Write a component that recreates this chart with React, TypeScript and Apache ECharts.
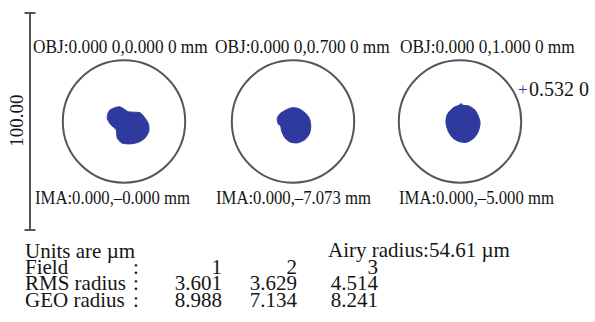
import React, { useEffect, useRef } from "react";
import * as echarts from "echarts";

// ---------- data ----------
const fieldNumbers = [1, 2, 3];
const objLabels = ["OBJ:0.000 0,0.000 0 mm", "OBJ:0.000 0,0.700 0 mm", "OBJ:0.000 0,1.000 0 mm"];
const imaLabels = ["IMA:0.000,–0.000 mm", "IMA:0.000,–7.073 mm", "IMA:0.000,–5.000 mm"];
const rmsRadius = [3.601, 3.629, 4.514];
const geoRadius = [8.988, 7.134, 8.241];
const airyRadiusUm = 54.61;
const scaleBarUm = 100;
const referenceLabel = "0.532 0";
// radius (µm, box units) of the drawn circle
const drawnCircleRadiusUm = 28.2;

// spot outlines (µm, relative to box centre)
const spot1: number[][] = [
  [-6.16, 5.56], [-2.18, 6.81], [-0.32, 6.02], [1.99, 4.49], [7.41, 4.03], [9.4, 1.99],
  [11.25, -1.06], [11.44, -4.49], [9.72, -7.55], [6.62, -9.58], [2.78, -10.32], [-1.06, -9.86],
  [-3.1, -7.55], [-3.7, -3.7], [-6.16, -1.39], [-7.73, 1.39], [-7.27, 4.03],
];
const spot2: number[][] = [
  [-3.7, 5.09], [-0.6, 6.34], [2.45, 6.02], [5.56, 4.03], [7.55, 1.39], [8.19, -2.18],
  [7.55, -5.69], [5.56, -8.33], [1.99, -9.86], [-1.39, -9.4], [-3.7, -7.55], [-5.23, -4.49],
  [-5.69, -2.18], [-6.81, -1.06], [-7.27, 1.39], [-6.02, 3.56],
];
const spot3: number[][] = [
  [-3.1, 6.34], [-0.32, 7.55], [0.46, 8.33], [1.25, 7.55], [4.31, 7.08], [6.94, 5.23],
  [8.47, 2.45], [9.26, -0.6], [8.47, -4.49], [6.48, -7.55], [3.1, -9.58], [-0.32, -9.26],
  [-3.38, -7.55], [-5.42, -4.49], [-6.48, -0.6], [-5.88, 3.24],
];
const spots = [spot1, spot2, spot3];

// ---------- layout ----------
const W = 595;
const H = 322;
const FONT = '"Liberation Serif", "Times New Roman", serif';
const gridTop = 13;
const gridH = 217;
const gridW = 150;
const boxCentersX = [124, 293, 460];
const xHalf = (scaleBarUm / 2) * (gridW / gridH);
const SPOT_COLOR = "#2f3a9f";
const GRAY = "#53575c";
const TEXT = "#151515";

export default function App() {
  const ref = useRef<HTMLDivElement>(null);

  useEffect(() => {
    if (!ref.current) return;
    const chart = echarts.init(ref.current, undefined, { renderer: "svg" });

    const grids = boxCentersX.map((cx) => ({
      left: cx - gridW / 2,
      top: gridTop,
      width: gridW,
      height: gridH,
      containLabel: false,
    }));
    const xAxes = boxCentersX.map((_, i) => ({
      type: "value", gridIndex: i, min: -xHalf, max: xHalf, show: false,
    }));
    const yAxes = boxCentersX.map((_, i) => ({
      type: "value", gridIndex: i, min: -scaleBarUm / 2, max: scaleBarUm / 2, show: false,
    }));

    const series: any[] = [];
    spots.forEach((pts, i) => {
      series.push({
        type: "custom",
        xAxisIndex: i,
        yAxisIndex: i,
        clip: false,
        silent: true,
        data: [[0, 0, drawnCircleRadiusUm]],
        renderItem: (params: any, api: any) => {
          const c = api.coord([api.value(0), api.value(1)]);
          const s = api.size([api.value(2), api.value(2)]);
          return {
            type: "ellipse",
            shape: { cx: c[0], cy: c[1], rx: s[0], ry: s[1] },
            style: { fill: "none", stroke: GRAY, lineWidth: 2 },
          };
        },
      });
      series.push({
        type: "custom",
        xAxisIndex: i,
        yAxisIndex: i,
        clip: false,
        silent: true,
        data: pts,
        renderItem: (params: any, api: any) => {
          if (params.dataIndex !== 0) return { type: "group", children: [] };
          const points = pts.map((p) => api.coord(p));
          return {
            type: "polygon",
            shape: { points, smooth: 0.25 },
            style: { fill: SPOT_COLOR, stroke: SPOT_COLOR, lineWidth: 1 },
          };
        },
      });
    });

    const txt = (text: string, x: number, y: number, size: number, opts: any = {}) => ({
      type: "text",
      x,
      y,
      scaleX: opts.scaleX ?? 1,
      rotation: opts.rotation ?? 0,
      silent: true,
      style: {
        text,
        fill: opts.fill ?? TEXT,
        fontSize: size,
        fontFamily: FONT,
        lineHeight: opts.lineHeight ?? undefined,
        align: opts.align ?? "left",
        verticalAlign: "middle",
      },
    });

    const graphic: any[] = [];
    // scale bar
    const barX = 30;
    graphic.push({ type: "line", silent: true, shape: { x1: barX, y1: gridTop, x2: barX, y2: gridTop + gridH }, style: { stroke: GRAY, lineWidth: 2 } });
    graphic.push({ type: "line", silent: true, shape: { x1: barX - 5.5, y1: gridTop, x2: barX + 5.5, y2: gridTop }, style: { stroke: GRAY, lineWidth: 2 } });
    graphic.push({ type: "line", silent: true, shape: { x1: barX - 5.5, y1: gridTop + gridH, x2: barX + 5.5, y2: gridTop + gridH }, style: { stroke: GRAY, lineWidth: 2 } });
    graphic.push(txt(scaleBarUm.toFixed(2), 16, gridTop + gridH / 2 - 1, 19, { rotation: Math.PI / 2, align: "center" }));

    const objX = [33, 215, 400];
    const imaX = [35, 216, 399];
    objLabels.forEach((t, i) => graphic.push(txt(t, objX[i], 47, 19, { scaleX: 0.91 })));
    imaLabels.forEach((t, i) => graphic.push(txt(t, imaX[i], 197.5, 19, { scaleX: 0.88 })));

    // reference marker
    graphic.push(txt("+", 518, 89, 17, { fill: "#2a37b4" }));
    graphic.push(txt(referenceLabel, 529, 89, 20));

    // table
    const fs = 21;
    const lh = 16;
    const rowY = [251, 267, 283, 299.5];
    const colRight = [222, 297, 378];
    graphic.push(txt("Units are µm", 25, rowY[0], fs, { lineHeight: lh }));
    graphic.push(txt(`Airy radius:${airyRadiusUm.toFixed(2)} µm`, 328, rowY[0] - 1, fs, { lineHeight: lh }));
    const rows: [string, string[]][] = [
      ["Field", fieldNumbers.map(String)],
      ["RMS radius", rmsRadius.map((v) => v.toFixed(3))],
      ["GEO radius", geoRadius.map((v) => v.toFixed(3))],
    ];
    rows.forEach(([label, vals], r) => {
      const y = rowY[r + 1];
      graphic.push(txt(label, 25, y, fs, { lineHeight: lh }));
      graphic.push(txt(":", 133, y, fs, { lineHeight: lh }));
      vals.forEach((v, c) => graphic.push(txt(v, colRight[c], y, fs, { align: "right", lineHeight: lh })));
    });

    chart.setOption({
      animation: false,
      backgroundColor: "#ffffff",
      grid: grids,
      xAxis: xAxes,
      yAxis: yAxes,
      series,
      graphic,
    });

    return () => chart.dispose();
  }, []);

  return (
    <div
      ref={ref}
      style={{ position: "absolute", left: 0, top: 0, width: W, height: H, background: "#fff" }}
    />
  );
}
